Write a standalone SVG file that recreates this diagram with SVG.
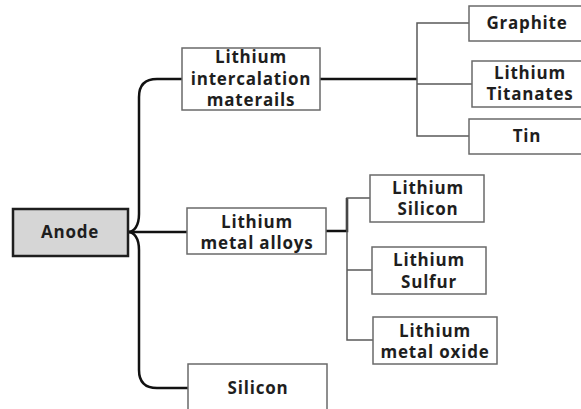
<svg xmlns="http://www.w3.org/2000/svg" width="581" height="409" viewBox="0 0 581 409">
<style>
.box{fill:#fff;stroke:#6a6a6a;stroke-width:1.5}
.root{fill:#d6d6d6;stroke:#1e1e1e;stroke-width:2.5}
.t{font-family:"Open Sans","DejaVu Sans",sans-serif;font-weight:700;font-size:17px;fill:#1e1e1e;text-anchor:middle;letter-spacing:0.8px}
.main{fill:none;stroke:#111;stroke-width:2.5}
.sub{fill:none;stroke:#5a5a5a;stroke-width:1.5}
</style>
<rect width="581" height="409" fill="#fff"/>
<g id="connectors">
<path class="main" d="M182,79 H157 Q139,79 139,97 V214 C139,226 134,232 128,232"/>
<path class="main" d="M128,232 C134,232 139,238 139,250 V370 Q139,388 157,388 H188"/>
<path class="main" d="M128,232 H187"/>
<path class="main" d="M320,79 H417"/>
<path class="sub" d="M469,23 H417 V136 H469 M417,84 H472"/>
<path class="main" d="M326,231 H347 V198"/>
<path class="sub" d="M370,198 H347 V340 H373 M347,270 H372"/>
</g>
<g id="anode"><rect class="root" x="13" y="209" width="115" height="47"/><text class="t" x="70" y="238">Anode</text></g>
<g id="intercalation"><rect class="box" x="182" y="48" width="138" height="62"/><text class="t" x="251" y="63">Lithium</text><text class="t" x="251" y="85">intercalation</text><text class="t" x="251" y="106">materails</text></g>
<g id="alloys"><rect class="box" x="187" y="208" width="139" height="46"/><text class="t" x="257" y="228">Lithium</text><text class="t" x="257" y="249">metal alloys</text></g>
<g id="silicon"><rect class="box" x="188" y="364" width="139" height="60"/><text class="t" x="258" y="394">Silicon</text></g>
<g id="graphite"><rect class="box" x="469" y="6" width="130" height="35"/><text class="t" x="527" y="29">Graphite</text></g>
<g id="titanates"><rect class="box" x="472" y="61" width="130" height="46"/><text class="t" x="530" y="79">Lithium</text><text class="t" x="530" y="100">Titanates</text></g>
<g id="tin"><rect class="box" x="469" y="119" width="130" height="35"/><text class="t" x="527" y="142">Tin</text></g>
<g id="li-silicon"><rect class="box" x="370" y="175" width="114" height="47"/><text class="t" x="428" y="194">Lithium</text><text class="t" x="428" y="215">Silicon</text></g>
<g id="li-sulfur"><rect class="box" x="372" y="247" width="114" height="47"/><text class="t" x="429" y="266">Lithium</text><text class="t" x="429" y="288">Sulfur</text></g>
<g id="li-oxide"><rect class="box" x="373" y="317" width="124" height="47"/><text class="t" x="435" y="337">Lithium</text><text class="t" x="435" y="358">metal oxide</text></g>
</svg>
